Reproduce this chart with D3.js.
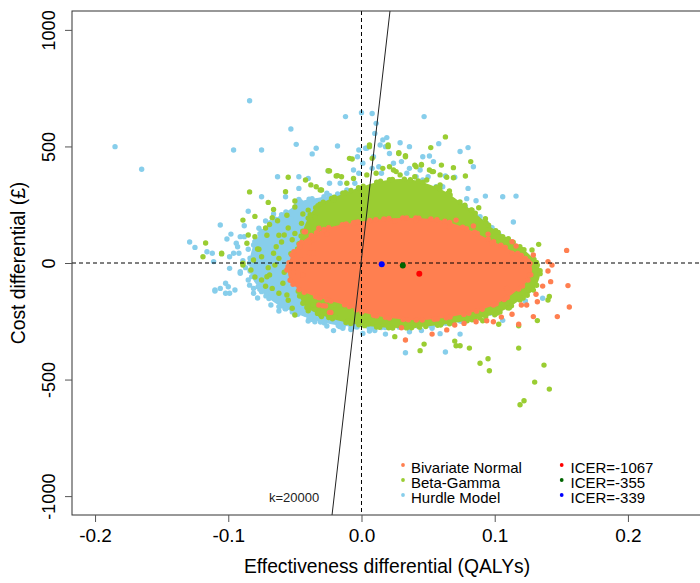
<!DOCTYPE html>
<html>
<head>
<meta charset="utf-8">
<script src="https://cdn.jsdelivr.net/npm/d3@7"></script>
<style>
  body { margin: 0; background: #fff; }
  svg { display: block; font-family: "Liberation Sans", Arial, sans-serif; }
</style>
</head>
<body>
<div class="container"></div>
<script>
// ---- data: [effectiveness diff (QALYs), cost diff (GBP)] ----

// dense cores of each cloud (outline of the solid area)
var hurdleCore = [[-0.084,4],[-0.081,77],[-0.075,135],[-0.066,185],[-0.055,225],[-0.0462,262],[-0.0274,285],[-0.0086,305],[0.0101,318],[0.0289,322],[0.0477,313],[0.0627,285],[0.0777,236],[0.0927,170],[0.1077,99],[0.119,21],[0.1228,-73],[0.1115,-159],[0.089,-225],[0.0589,-262],[0.0289,-275],[-0.0011,-275],[-0.0236,-262],[-0.0424,-232],[-0.059,-190],[-0.070,-150],[-0.078,-100],[-0.083,-50]];
var betaGammaCore = [[-0.0387,206],[-0.0312,252],[-0.0161,292],[-0.0011,325],[0.0139,350],[0.0289,360],[0.0439,350],[0.0589,318],[0.0725,268],[0.0852,215],[0.098,150],[0.1115,99],[0.1265,34],[0.134,-30],[0.1303,-107],[0.119,-159],[0.104,-210],[0.0815,-245],[0.0589,-266],[0.0289,-279],[-0.0011,-266],[-0.0236,-236],[-0.0424,-184],[-0.0477,-116],[-0.0492,-9],[-0.0462,99]];
var bivNormalCore = [[-0.0552,-21],[-0.0522,34],[-0.0462,82],[-0.0372,120],[-0.0252,150],[-0.0124,167],[0.0026,180],[0.0289,193],[0.0589,184],[0.0777,150],[0.0965,99],[0.1115,56],[0.1228,21],[0.128,-21],[0.125,-73],[0.1152,-124],[0.104,-167],[0.089,-202],[0.0664,-232],[0.0439,-245],[0.0214,-236],[0.0026,-215],[-0.0124,-180],[-0.0312,-150],[-0.0462,-116],[-0.0537,-73]];

// scattered draws outside / around the cores
var hurdlePts = [[-0.185,499],[-0.165,402],[-0.096,485],[-0.084,696],[-0.053,575],[-0.049,509],[-0.075,485],[-0.037,468],[-0.034,492],[-0.018,502],[-0.063,370],[-0.075,284],[-0.085,222],[-0.106,163],[-0.098,124],[-0.101,103],[-0.129,90],[-0.125,67],[-0.088,113],[-0.047,370],[-0.040,363],[-0.047,320],[-0.057,284],[-0.047,273],[-0.066,210],[-0.072,180],[-0.077,149],[-0.059,170],[-0.053,187],[-0.025,395],[-0.026,249],[-0.080,91],[-0.085,59],[-0.094,85],[-0.096,42],[-0.112,42],
  [-0.111,6],[-0.116,48],[-0.099,27],[-0.110,-116],[-0.106,-109],[-0.102,-87],[-0.100,-102],[-0.095,-116],[-0.099,-130],[-0.091,113],[-0.092,42],[-0.091,-37],[-0.085,-73],[-0.081,-109],[-0.071,-116],[-0.062,-187],[-0.057,-194],[-0.045,-180],[-0.039,-237],[-0.035,-252],[-0.026,-270],[-0.016,-273],[-0.014,-280],
  [-0.012,628],[0.000,645],[0.008,641],[0.047,628],[0.011,599],[0.010,556],[0.019,538],[0.016,528],[0.029,516],[0.036,499],[0.058,512],[0.074,478],[0.080,495],[0.084,413],[0.054,435],[0.046,456],[0.051,459],[-0.003,456],[-0.002,485],[0.003,492],[0.080,320],[0.093,287],[0.106,284],[0.116,287],[0.063,373],[0.036,406],[0.013,413],[0.015,385],[-0.024,342],[-0.016,342],[-0.026,299],[0.070,368],[0.086,267],[0.079,276],[0.078,242],[0.089,199],[0.094,170],[0.098,151],[0.114,176],
  [-0.006,399],[-0.002,385],[-0.005,342],[-0.011,313],[-0.001,313],[0.018,499],[0.014,506],[0.021,470],[0.030,435],[0.044,399],[0.046,356],[0.050,370],[0.056,327],[0.061,327],[0.041,370],[0.034,385],[0.024,428],[0.008,406],[0.001,428],[0.009,456],[0.004,492],
  [-0.110,-120],[-0.102,-130],[-0.099,-23],[-0.091,-44],[-0.081,-130],[-0.075,-123],[-0.066,-145],[-0.060,-151],[-0.062,-206],[-0.057,-197],[-0.042,-219],[-0.040,-249],[-0.035,-245],[-0.030,-230],[-0.017,-270],
  [-0.088,160],[-0.093,70],[-0.089,10],[-0.087,-20],[-0.084,-95],[-0.078,-150],[-0.068,-180],[-0.050,-220],[-0.021,-290],[-0.008,-285],[0.010,-290],[0.045,-290],[0.075,-250],[0.097,-215],[0.120,-120],
  [0.033,-385],[0.063,-382],[0.074,-305],[0.059,-303],[0.018,-305],[0.006,-292],[0.001,-302],[-0.005,-273],[0.136,-151],[0.123,-163],[0.106,-246],[0.036,-295],[0.021,-273],[0.053,-280]];

var betaGammaPts = [[-0.055,368],[-0.084,305],[-0.070,260],[-0.089,184],[-0.117,86],[-0.105,42],[-0.119,27],[-0.038,335],[-0.042,356],[-0.057,306],[-0.050,266],[-0.067,194],[-0.063,181],[-0.080,113],[-0.071,119],[-0.062,119],[-0.050,127],[-0.045,170],[-0.040,227],[-0.035,199],[-0.031,313],[-0.024,395],[-0.019,373],[-0.021,270],[-0.021,156],[-0.077,59],[-0.066,42],
  [-0.105,39],[-0.086,85],[-0.089,-1],[-0.075,-73],[-0.067,-109],[-0.052,-194],[-0.050,-223],[-0.030,-230],[-0.020,-230],
  [0.063,541],[0.052,495],[0.082,435],[0.069,409],[0.060,420],[0.006,499],[0.020,499],[0.033,460],[0.028,473],[-0.007,446],[-0.025,396],[-0.018,375],[0.078,373],[0.066,309],[0.069,366],[0.053,392],[0.045,423],[0.041,413],[0.021,413],[0.026,392],[-0.034,327],[-0.030,313],[-0.014,299],
  [0.006,506],[0.008,449],[0.020,506],[0.028,470],[0.033,456],[0.040,420],[0.045,420],[0.051,399],[0.054,392],[0.059,378],[0.064,368],[0.024,399],[0.016,406],[0.011,385],[0.029,378],[0.040,370],[0.049,356],[0.059,335],[0.004,378],[-0.006,363],[-0.011,342],[-0.015,370],[-0.009,449],[0.001,306],[0.009,327],
  [0.088,237],[0.083,227],[0.093,190],[0.106,113],[0.133,80],[0.128,56],
  [0.132,-9],[0.141,-144],[0.140,-159],[0.132,-247],[0.118,-269],[0.118,-365],[0.137,-438],[0.130,-511],[0.141,-541],[0.122,-591],[0.119,-608],[0.095,-411],[0.089,-430],[0.096,-462],[0.081,-365],[0.070,-335],[0.071,-355],[0.074,-355],[0.047,-348],[0.044,-376],[0.025,-316],[0.103,-263],[0.111,-192],[0.119,-159],[0.091,-248],
  [-0.089,-9],[-0.069,-51],[-0.059,-87],[-0.032,-212],[-0.024,-223],[-0.056,-137],[-0.046,-109],[-0.041,-137],[-0.036,-180],[-0.021,-180],[-0.081,13],[-0.075,27],[-0.065,-9],[-0.071,-59],
  [-0.050,240],[-0.044,210],[-0.055,150],[-0.060,90],[-0.048,60],[-0.062,20],
  [-0.080,200],[-0.072,150],[-0.085,120],[-0.078,60],[-0.083,-30],[-0.070,-20],[-0.064,70],[-0.058,120],[-0.066,230],[-0.056,205],[-0.080,-60],[-0.072,-100],[-0.062,-130],[-0.055,-160],[-0.053,40],[-0.058,-40],[-0.069,165],[-0.052,100],
  [-0.010,-250],[0.005,-262],[0.020,-270],[0.040,-268],[0.060,-258],[0.085,-240],[0.100,-222],[-0.040,-205]];

var bivNormalPts = [[-0.027,-184],[-0.023,-212],[-0.032,-180],[-0.056,-30],[-0.054,-16],[-0.051,-37],[-0.042,134],[-0.036,99],[-0.039,42],[-0.045,13],
  [0.154,54],[0.113,91],[0.116,73],[0.095,124],[0.098,85],[0.129,34],[0.113,42],[0.071,184],[0.066,156],[0.084,159],[0.041,181],[0.025,180],[-0.006,173],
  [0.155,-97],[0.156,-189],[0.147,-230],[0.140,6],[0.143,-9],[0.140,-34],[0.142,-80],[0.136,-99],[0.131,-134],[0.132,-166],[0.129,-230],[0.118,-263],[0.113,-220],[0.105,-232],[0.099,-252],[0.094,-248],[0.086,-252],[0.033,-330],[0.030,-278],[0.053,-305],[0.064,-287],[0.077,-259],[0.070,-266],[0.123,20],[0.126,-51],[0.124,-180],[0.120,-180],[0.109,-109],
  [-0.031,-149],[-0.029,-183],[-0.024,-212],[-0.044,-51],[-0.054,-9],
  [-0.043,134],[-0.032,149],[-0.026,124],[-0.039,91],[-0.046,70],[-0.036,42]];

// means of the three models and their ICERs
var meanEff = [0.0434, 0.0310, 0.0152];
var meanCost = [-46.3, -11.0, -5.15];
var icerLabels = ["ICER=-1067", "ICER=-355", "ICER=-339"];

// willingness-to-pay line, as drawn (end points at the plot edges)
var wtpLine = [[-0.0221, -1081], [0.0214, 1081]];
var wtpLabel = "k=20000";

var seriesNames = ["Bivariate Normal", "Beta-Gamma", "Hurdle Model"];
var xTicks = [-0.2, -0.1, 0.0, 0.1, 0.2];
var yTicks = [-1000, -500, 0, 500, 1000];

// ---- drawing ----
var W = 700, H = 583;
var pLeft = 72, pRight = 702, pTop = 11, pBottom = 515;

var seriesColor = ["#FF7F50", "#9ACD32", "#87CEEB"];
var meanColor = ["#FF0000", "#006400", "#0000FF"];

// plain hyphen minus like the original
var fmtX = function(d) { return d3.format(".1f")(d).replace("\u2212", "-"); };
var fmtY = function(d) { return d3.format("d")(d).replace("\u2212", "-"); };

var svg = d3.select(".container")
            .append("svg")
            .attr("width", W)
            .attr("height", H);

var x = d3.scaleLinear().domain([-0.2173, 0.2556]).range([pLeft, pRight]);
var y = d3.scaleLinear().domain([-1081, 1081]).range([pBottom, pTop]);

var plotArea = svg.append("g");

var outline = d3.line()
                .x(function(d) { return x(d[0]); })
                .y(function(d) { return y(d[1]); })
                .curve(d3.curveCatmullRomClosed);

function drawCloud(core, pts, col) {
  plotArea.append("path")
          .attr("d", outline(core))
          .attr("fill", col);
  // uneven beaded rim so the edge reads as dots, not a clean curve
  plotArea.append("path")
          .attr("d", outline(core))
          .attr("fill", "none")
          .attr("stroke", col)
          .attr("stroke-width", 5.4)
          .attr("stroke-linecap", "round")
          .attr("stroke-dasharray", "0,4,0,9,0,3,0,12,0,6,0,8,0,5,0,14");
  plotArea.append("g")
          .selectAll("circle")
          .data(pts)
          .enter()
          .append("circle")
          .attr("cx", function(d) { return x(d[0]); })
          .attr("cy", function(d) { return y(d[1]); })
          .attr("r", 2.7)
          .attr("fill", col);
}

// hurdle at the bottom, bivariate normal on top
drawCloud(hurdleCore, hurdlePts, seriesColor[2]);
drawCloud(betaGammaCore, betaGammaPts, seriesColor[1]);
drawCloud(bivNormalCore, bivNormalPts, seriesColor[0]);

// dashed reference lines at zero
svg.append("line")
   .attr("x1", pLeft).attr("x2", pRight)
   .attr("y1", y(0)).attr("y2", y(0))
   .attr("stroke", "#000").attr("stroke-dasharray", "4,3");
svg.append("line")
   .attr("x1", x(0)).attr("x2", x(0))
   .attr("y1", pTop).attr("y2", pBottom)
   .attr("stroke", "#000").attr("stroke-dasharray", "4,3");

// WTP line
svg.append("line")
   .attr("x1", x(wtpLine[0][0])).attr("y1", y(wtpLine[0][1]))
   .attr("x2", x(wtpLine[1][0])).attr("y2", y(wtpLine[1][1]))
   .attr("stroke", "#222").attr("stroke-width", 1);
svg.append("text")
   .attr("x", 269).attr("y", 502)
   .attr("font-size", "13px")
   .attr("fill", "#222")
   .text(wtpLabel);

// means
svg.append("g")
   .selectAll("circle")
   .data(meanEff)
   .enter()
   .append("circle")
   .attr("cx", function(d) { return x(d); })
   .attr("cy", function(d, i) { return y(meanCost[i]); })
   .attr("r", 3)
   .attr("fill", function(d, i) { return meanColor[i]; });

// box
svg.append("rect")
   .attr("x", pLeft).attr("y", pTop)
   .attr("width", pRight - pLeft).attr("height", pBottom - pTop)
   .attr("fill", "none").attr("stroke", "#333");

// axes
var xAxis = d3.axisBottom(x).tickValues(xTicks).tickSize(7).tickFormat(fmtX);
var gx = svg.append("g").attr("transform", "translate(0," + pBottom + ")").call(xAxis);
gx.select(".domain").remove();
gx.selectAll("line").attr("stroke", "#555");
gx.selectAll("text")
  .attr("y", 27).attr("dy", null)
  .attr("font-size", "19px")
  .attr("font-family", "Liberation Sans, Arial, sans-serif")
  .attr("fill", "#000");

var yAxis = d3.axisLeft(y).tickValues(yTicks).tickSize(7).tickFormat(fmtY);
var gy = svg.append("g").attr("transform", "translate(" + pLeft + ",0)").call(yAxis);
gy.select(".domain").remove();
gy.selectAll("line").attr("stroke", "#555");
gy.selectAll("text")
  .attr("x", null).attr("dy", null)
  .attr("text-anchor", "middle")
  .attr("transform", "translate(-17,0) rotate(-90)")
  .attr("font-size", "18px")
  .attr("font-family", "Liberation Sans, Arial, sans-serif")
  .attr("fill", "#000");

// axis titles
svg.append("text")
   .attr("x", (pLeft + pRight) / 2).attr("y", 573)
   .attr("text-anchor", "middle")
   .attr("font-size", "19.3px")
   .text("Effectiveness differential (QALYs)");
svg.append("text")
   .attr("transform", "translate(25," + y(0) + ") rotate(-90)")
   .attr("text-anchor", "middle")
   .attr("font-size", "19.3px")
   .text("Cost differential (\u00A3)");

// legend
var legend = svg.append("g").attr("font-size", "15px");
var rowY = [473, 488, 503];

legend.selectAll(".lbullet")
      .data(seriesNames)
      .enter()
      .append("circle")
      .attr("cx", 403)
      .attr("cy", function(d, i) { return rowY[i] - 8; })
      .attr("r", 1.9)
      .attr("fill", function(d, i) { return seriesColor[i]; });
legend.selectAll(".ltext")
      .data(seriesNames)
      .enter()
      .append("text")
      .attr("x", 411)
      .attr("y", function(d, i) { return rowY[i]; })
      .text(function(d) { return d; });

legend.selectAll(".rbullet")
      .data(icerLabels)
      .enter()
      .append("circle")
      .attr("cx", 561.7)
      .attr("cy", function(d, i) { return rowY[i] - 8; })
      .attr("r", 1.9)
      .attr("fill", function(d, i) { return meanColor[i]; });
legend.selectAll(".rtext")
      .data(icerLabels)
      .enter()
      .append("text")
      .attr("x", 570.5)
      .attr("y", function(d, i) { return rowY[i]; })
      .text(function(d) { return d; });
</script>
</body>
</html>
